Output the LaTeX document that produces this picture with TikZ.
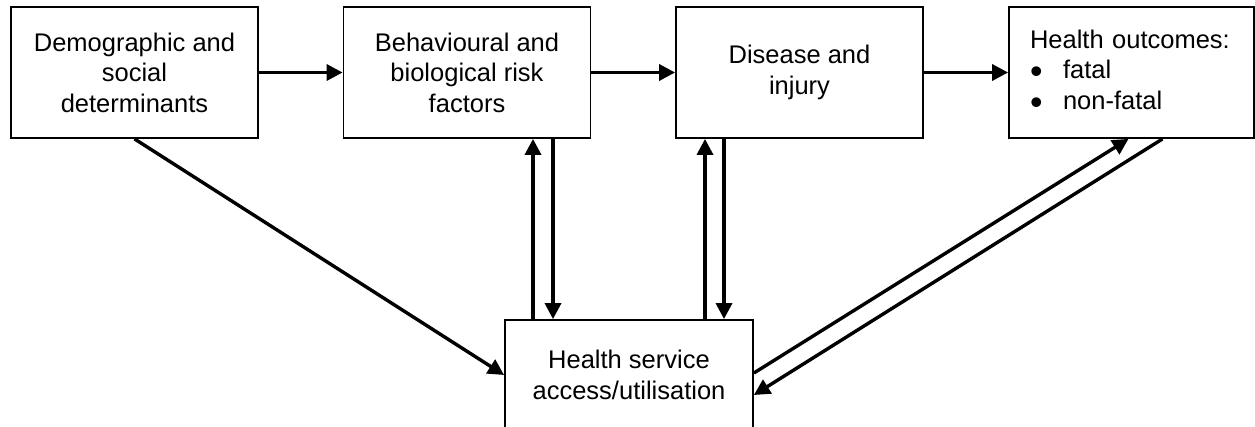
\documentclass[tikz,border=0pt]{standalone}
\usepackage{fontspec}
\usepackage{graphicx}
\setmainfont{Liberation Sans}
\usetikzlibrary{arrows.meta,calc}
\tikzset{
  box/.style={draw, line width=1.8pt, minimum width=247pt, minimum height=131pt,
    inner sep=0pt, align=center, font=\fontsize{25.5pt}{30.6pt}\selectfont},
  arr/.style={line width=3.4pt, -{Triangle[length=16pt,width=16pt]}},
}
\newcommand{\bul}{\raisebox{-5pt}{\scalebox{1.4}{\textbullet}}}
\begin{document}
\begin{tikzpicture}[x=1pt,y=-1pt]
\useasboundingbox (0,0) rectangle (1255,426);
\node[box] (b1) at (134.5,72.5) {Demographic and\\social\\determinants};
\node[box] (b2) at (467,72.5) {Behavioural and\\biological risk\\factors};
\node[box] (b3) at (799.5,72.5) {Disease and\\injury};
\node[box, minimum width=245pt, text width=203pt, inner xsep=21pt, align=left] (b4) at (1131.5,72.5)
  {\begin{tabular}{@{}l@{}l@{}}\multicolumn{2}{@{}l@{}}{Health outcomes:}\\
   \makebox[33pt][l]{\bul} & fatal\\
   \makebox[33pt][l]{\bul} & non-fatal\end{tabular}};
\node[box, minimum width=248pt, minimum height=110pt] (hs) at (629,375) {Health service\\access/utilisation};
\coordinate (u1) at (533,0);
\coordinate (d1) at (553,0);
\coordinate (u2) at (705,0);
\coordinate (d2) at (724,0);
\draw[arr] (b1.east) -- (b2.west);
\draw[arr] (b2.east) -- (b3.west);
\draw[arr] (b3.east) -- (b4.west);
\draw[arr] (hs.north -| u1) -- (b2.south -| u1);
\draw[arr] (b2.south -| d1) -- (hs.north -| d1);
\draw[arr] (hs.north -| u2) -- (b3.south -| u2);
\draw[arr] (b3.south -| d2) -- (hs.north -| d2);
\draw[arr] (b1.south) -- (hs.west);
\draw[arr] ($(hs.east)+(0,-2)$) -- ($(b4.south)+(-3,0)$);
\draw[arr] ($(b4.south)+(31,0)$) -- ($(hs.east)+(0,20)$);
\end{tikzpicture}
\end{document}
